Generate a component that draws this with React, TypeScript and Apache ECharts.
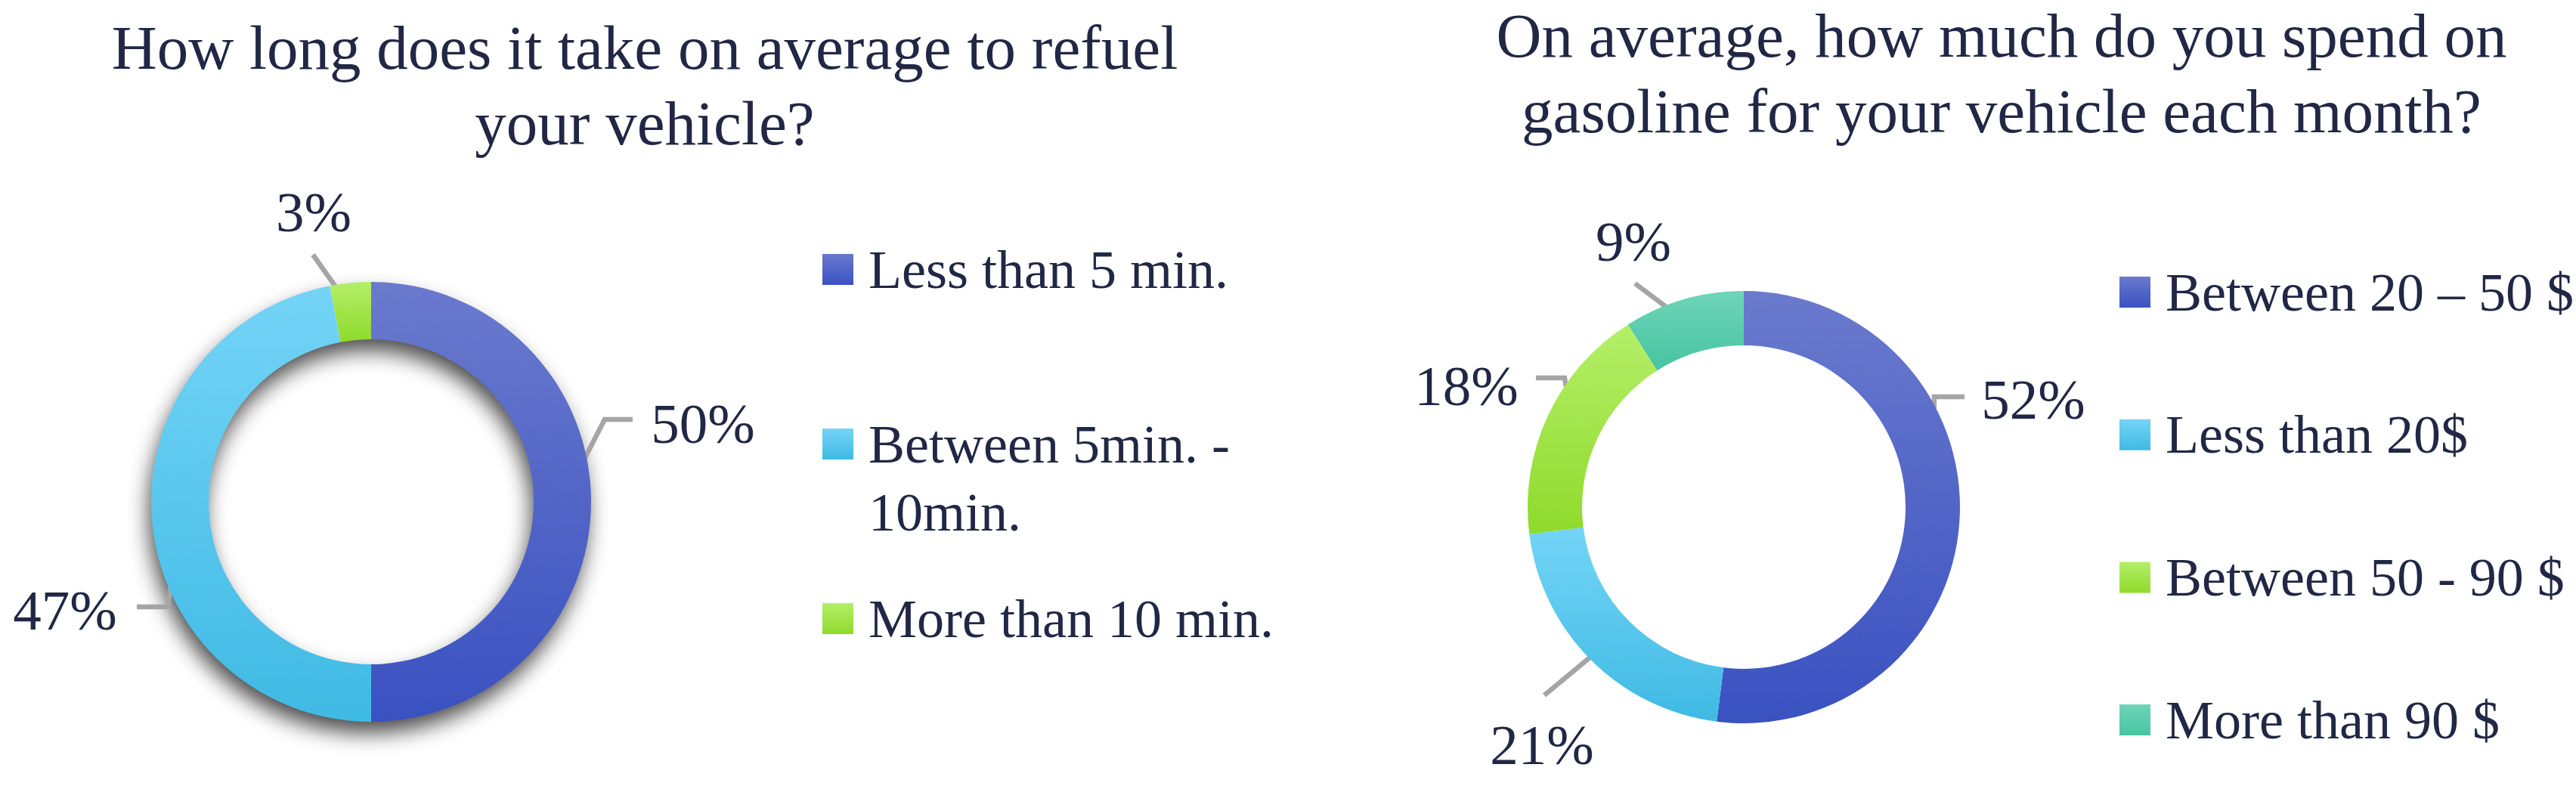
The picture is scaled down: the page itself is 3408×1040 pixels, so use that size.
import React, { useEffect, useRef } from 'react';
import * as echarts from 'echarts';

// ---------- data ----------
const leftTitle = 'How long does it take on average to refuel\nyour vehicle?';
const rightTitle = 'On average, how much do you spend on\ngasoline for your vehicle each month?';

const leftCategories = ['Less than 5 min.', 'Between 5min. - 10min.', 'More than 10 min.'];
const leftLegendText = ['Less than 5 min.', '\nBetween 5min. -\n10min.', 'More than 10 min.'];
const leftValues = [50, 47, 3];

const rightCategories = ['Between 20 – 50 $', 'Less than 20$', 'Between 50 - 90 $', 'More than 90 $'];
const rightValues = [52, 21, 18, 9];

// ---------- style ----------
const FONT = "'Liberation Serif', 'Times New Roman', serif";
const TEXT = '#212745';
const LINE = '#A5A5A5';
const BLUE = ['#6A7ACD', '#3A51C1'];
const LIGHT = ['#74D4F7', '#3FBAE4'];
const GREEN = ['#B4EF68', '#8FDA2C'];
const TEAL = ['#6FD5B8', '#46C4A0'];
const leftColors = [BLUE, LIGHT, GREEN];
const rightColors = [BLUE, LIGHT, GREEN, TEAL];

// ---------- layout ----------
const LEFT = { cx: 491, cy: 664, r0: 215, r: 291 };
const RIGHT = { cx: 2307, cy: 671, r0: 214, r: 286 };
const leftLabelOffsets = [[439, -104], [-405, 143], [-76, -384]];
const leftLineShape = [[[-130, -5], [-93, -5]], [[136, -4], [95, -4]], [null, [-1, 57]]];
const rightLabelOffsets = [[383, -143], [-267, 314], [-367, -161], [-146, -352]];
const rightLineShape = [[[-131, -3], [-91, -3]], [null, [3, -65]], [[130, -10], [92, -10]], [null, [2, 56]]];

const grad = (c: string[]) =>
  new echarts.graphic.LinearGradient(0, 0, 0, 1, [
    { offset: 0, color: c[0] },
    { offset: 1, color: c[1] },
  ]);

function makeLabelLayout(geo: any, values: number[], offsets: number[][], lines: any[]) {
  const total = values.reduce((a, b) => a + b, 0);
  const rMid = (geo.r0 + geo.r) / 2;
  return (p: any) => {
    const i = p.dataIndex;
    let before = 0;
    for (let k = 0; k < i; k++) before += values[k];
    const a = ((before + values[i] / 2) / total) * Math.PI * 2;
    const sx = geo.cx + rMid * Math.sin(a);
    const sy = geo.cy - rMid * Math.cos(a);
    const lx = geo.cx + offsets[i][0];
    const ly = geo.cy + offsets[i][1];
    const [elbow, end] = lines[i];
    const e = [lx + end[0], ly + end[1]];
    const m = elbow ? [lx + elbow[0], ly + elbow[1]] : e;
    return {
      x: lx,
      y: ly,
      align: 'center',
      verticalAlign: 'middle',
      labelLinePoints: [[sx, sy], m, e],
    };
  };
}

function pieSeries(geo: any, cats: string[], vals: number[], colors: string[][], offsets: number[][], lines: any[]) {
  return {
    type: 'pie',
    center: [geo.cx, geo.cy],
    radius: [geo.r0, geo.r],
    startAngle: 90,
    clockwise: true,
    avoidLabelOverlap: false,
    silent: true,
    z: 2,
    data: cats.map((n, i) => ({ name: n, value: vals[i], itemStyle: { color: grad(colors[i]) } })),
    label: {
      show: true,
      position: 'outside',
      formatter: (p: any) => p.value + '%',
      fontSize: 75,
      fontFamily: FONT,
      color: TEXT,
    },
    labelLine: {
      show: true,
      length: 10,
      length2: 10,
      smooth: false,
      lineStyle: { color: LINE, width: 6.5, cap: 'butt', join: 'miter' },
    },
    labelLayout: makeLabelLayout(geo, vals, offsets, lines),
    emphasis: { disabled: true },
  };
}

function legendOf(data: string[], left: number, top: number, gap: number, fmt?: (n: string) => string) {
  return {
    orient: 'vertical',
    left,
    top,
    padding: 0,
    itemWidth: 41,
    itemHeight: 41,
    itemGap: gap,
    icon: 'rect',
    selectedMode: false,
    data,
    formatter: fmt,
    textStyle: {
      fontSize: 72,
      lineHeight: 90,
      color: TEXT,
      fontFamily: FONT,
      padding: [0, 0, 0, 15],
    },
  };
}

export default function App() {
  const ref = useRef<HTMLDivElement>(null);
  useEffect(() => {
    document.body.style.margin = '0';
    if (!ref.current) return;
    const chart = echarts.init(ref.current, undefined, { renderer: 'svg' });
    const titleStyle = { fontSize: 83, lineHeight: 100, fontWeight: 'normal', color: TEXT, fontFamily: FONT };
    chart.setOption({
      animation: false,
      backgroundColor: '#ffffff',
      title: [
        { text: leftTitle, left: 853, top: 13, textAlign: 'center', padding: 0, textStyle: titleStyle },
        { text: rightTitle, left: 2648, top: -3, textAlign: 'center', padding: 0, textStyle: titleStyle },
      ],
      legend: [
        legendOf(leftCategories, 1088, 311.5, 51, (n: string) => leftLegendText[leftCategories.indexOf(n)]),
        legendOf(rightCategories, 2804, 341.5, 98.7),
      ],
      graphic: [
        {
          type: 'ring',
          silent: true,
          z: 0,
          shape: { cx: LEFT.cx, cy: LEFT.cy, r: LEFT.r - 1, r0: LEFT.r0 + 1 },
          style: {
            fill: '#ffffff',
            shadowBlur: 28,
            shadowColor: 'rgba(0,0,0,0.7)',
            shadowOffsetX: -4,
            shadowOffsetY: 16,
          },
        },
      ],
      series: [
        pieSeries(LEFT, leftCategories, leftValues, leftColors, leftLabelOffsets, leftLineShape),
        pieSeries(RIGHT, rightCategories, rightValues, rightColors, rightLabelOffsets, rightLineShape),
      ],
    });
    return () => chart.dispose();
  }, []);
  return <div ref={ref} style={{ width: 3408, height: 1040 }} />;
}
